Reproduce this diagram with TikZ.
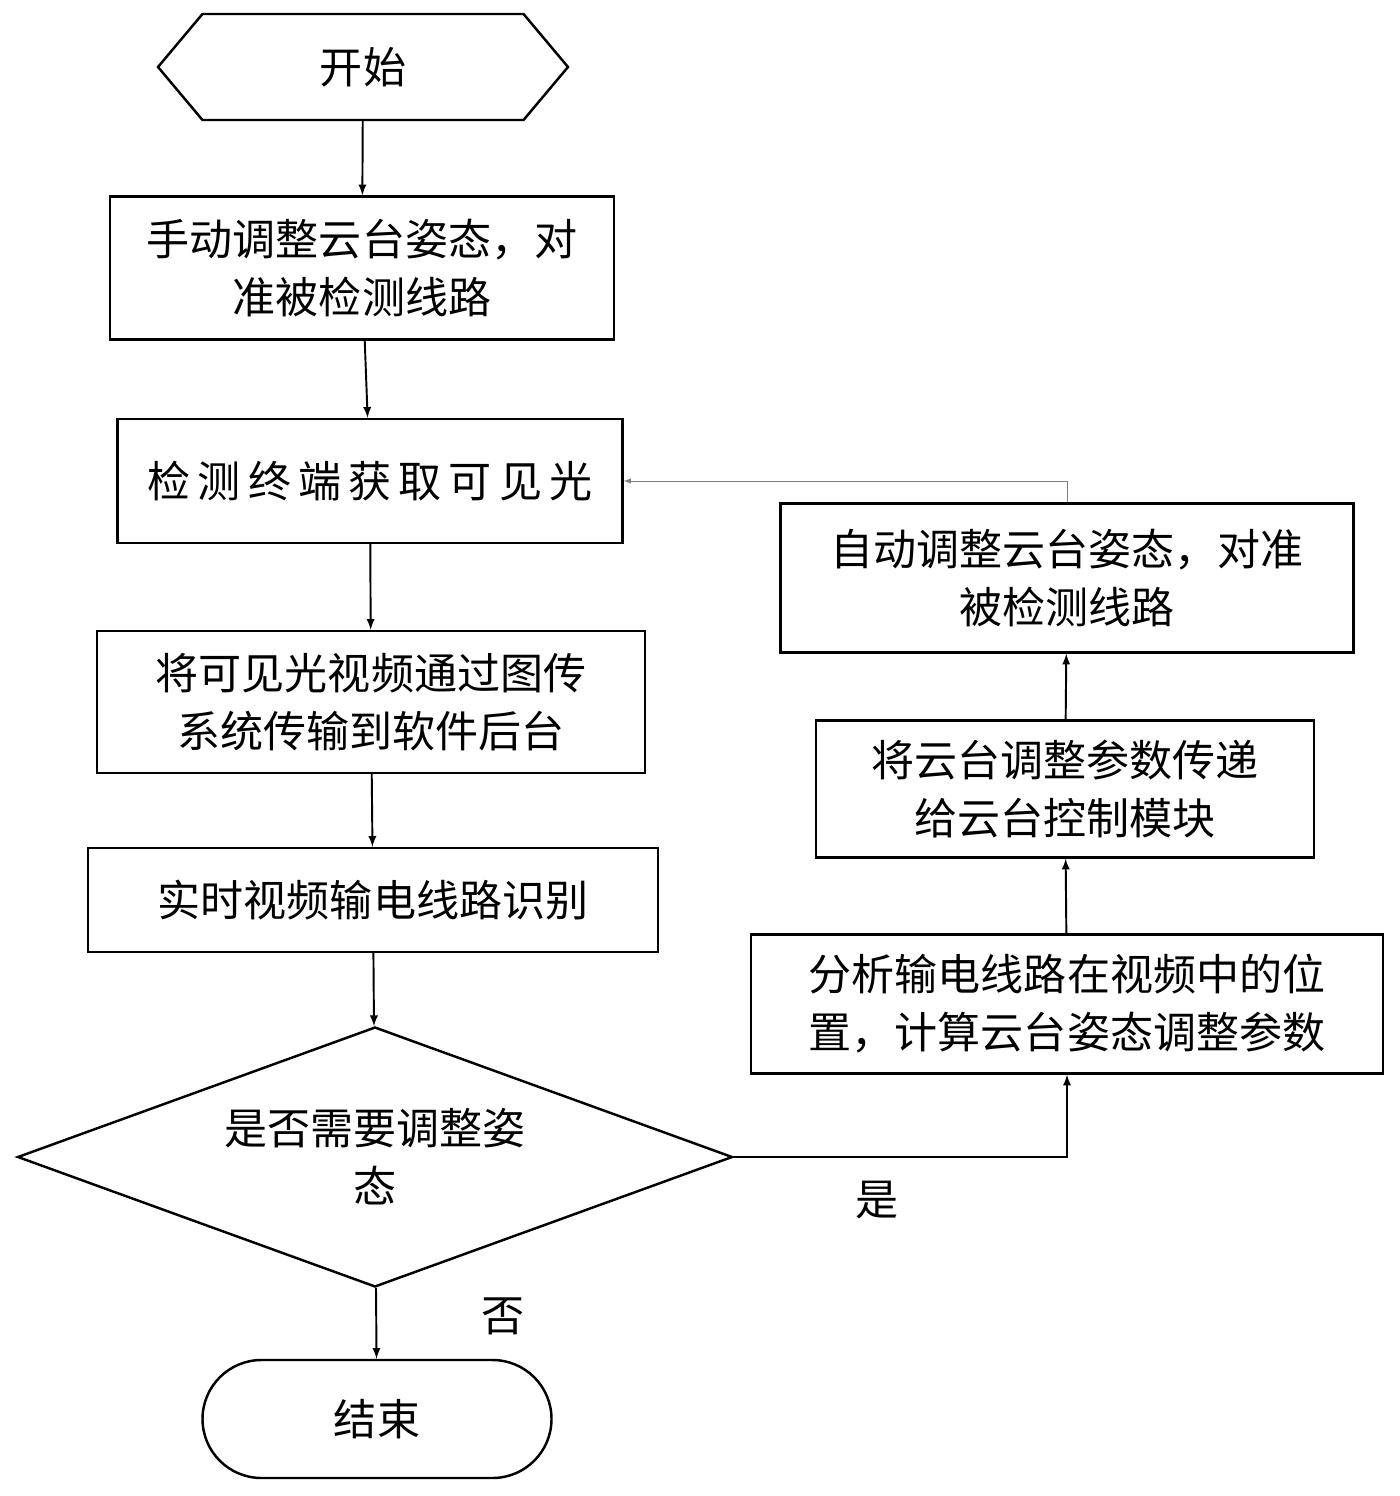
\documentclass[tikz,border=0pt]{standalone}
\usepackage{fontspec}
\newfontfamily\cjk{Noto Sans CJK SC}
\usetikzlibrary{shapes.geometric,shapes.misc,shapes.symbols}

\begin{document}
\begin{tikzpicture}[x=0.02cm,y=-0.02cm,
  every node/.style={font=\cjk\fontsize{24.5}{33}\selectfont,align=center},
  box/.style={draw,line width=1.4pt,inner sep=0pt},
  arr/.style={->,>=latex,line width=1.1pt}]
\useasboundingbox (0,0) rectangle (1399,1496);

\node[box,shape=signal,signal to=west and east,signal pointer angle=100,minimum width=410*0.02cm,minimum height=106*0.02cm] (start) at (363,67) {开始};
\node[box,minimum width=504*0.02cm,minimum height=143*0.02cm] (adjust) at (362,268) {手动调整云台姿态，对\\准被检测线路};
\node[box,minimum width=505*0.02cm,minimum height=124*0.02cm] (capture) at (370,481) {检\,测\,终\,端\,获\,取\,可\,见\,光};
\node[box,minimum width=548*0.02cm,minimum height=142*0.02cm] (transfer) at (371,702) {将可见光视频通过图传\\系统传输到软件后台};
\node[box,minimum width=570*0.02cm,minimum height=104*0.02cm] (detect) at (373,900) {实时视频输电线路识别};
\node[box,diamond,aspect=2.75,minimum width=715*0.02cm,minimum height=260*0.02cm] (decide) at (375,1157) {是否需要调整姿\\态};
\node[box,rounded rectangle,minimum width=349*0.02cm,minimum height=118*0.02cm] (finish) at (377,1419) {结束};

\node[box,minimum width=632*0.02cm,minimum height=139*0.02cm] (analyse) at (1067,1004) {分析输电线路在视频中的位\\置，计算云台姿态调整参数};
\node[box,minimum width=498*0.02cm,minimum height=137*0.02cm] (pass) at (1065,789) {将云台调整参数传递\\给云台控制模块};
\node[box,minimum width=573*0.02cm,minimum height=149*0.02cm] (auto) at (1067,578) {自动调整云台姿态，对准\\被检测线路};

\draw[arr] (start) -- (adjust);
\draw[arr] (adjust) -- (capture);
\draw[arr] (capture) -- (transfer);
\draw[arr] (transfer) -- (detect);
\draw[arr] (detect) -- (decide);
\draw[arr] (decide) -- (finish);
\draw[arr] (decide.east) -| (analyse.south);
\draw[arr] (analyse) -- (pass);
\draw[arr] (pass) -- (auto);
\draw[->,>=latex,gray] (auto.north) |- (capture.east);

\node (yes) at (877,1200) {是};
\node (no) at (503,1316) {否};
\end{tikzpicture}
\end{document}
